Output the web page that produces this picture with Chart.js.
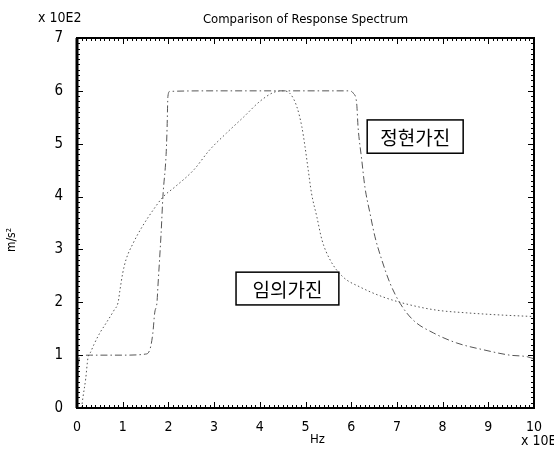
<!DOCTYPE html>
<html><head><meta charset="utf-8">
<script src="https://cdn.jsdelivr.net/npm/chart.js@4/dist/chart.umd.min.js"></script>
<style>html,body{margin:0;padding:0;background:#fff}#wrap{width:554px;height:454px}</style>
</head><body><div id="wrap"><canvas id="c" width="554" height="454"></canvas></div>
<script>
const xTicks = [0,1,2,3,4,5,6,7,8,9,10];
const yTicks = [0,1,2,3,4,5,6,7];
// 정현가진 (dash-dot)
const sineX = [0,0.02,0.05,0.1,0.3,1.0,1.5,1.6,1.66,1.7,1.75,1.77,1.84,1.88,1.95,1.97,1.99,2.03,3.0,4.0,5.0,5.95,6.05,6.12,6.15,6.23,6.3,6.41,6.52,6.67,6.85,7.07,7.36,7.8,8.31,8.9,9.47,9.85,10];
const sineY = [0,0.6,0.95,0.99,1.0,1.0,1.02,1.12,1.42,1.8,2.0,2.29,3.3,4.0,4.8,5.26,5.9,5.99,6.0,6.0,6.0,6.0,5.95,5.76,5.32,4.7,4.18,3.69,3.24,2.8,2.36,1.98,1.66,1.42,1.23,1.1,1.0,0.97,0.93];
// 임의가진 (dotted)
const randX = [0.1,0.13,0.19,0.24,0.3,0.37,0.5,0.61,0.81,0.9,0.94,1.0,1.07,1.23,1.42,1.67,1.89,2.14,2.55,2.9,3.27,3.64,4.0,4.3,4.5,4.66,4.81,4.92,4.99,5.06,5.13,5.25,5.36,5.54,5.82,6.19,6.7,7.29,7.88,8.53,9.26,10];
const randY = [0,0.2,0.55,0.95,1.06,1.2,1.42,1.57,1.85,2.0,2.23,2.55,2.8,3.12,3.42,3.75,4.0,4.18,4.5,4.88,5.2,5.5,5.8,5.97,6.0,5.95,5.7,5.32,4.94,4.5,4.07,3.61,3.18,2.8,2.48,2.29,2.1,1.95,1.85,1.8,1.76,1.73];

const FONT = '"Liberation Sans Narrow","DejaVu Sans Condensed","Liberation Sans",sans-serif';
const pts = (xs, ys) => xs.map((x,i)=>({x, y: ys[i]}));

const frame = {
  id: 'frame',
  afterDraw(chart) {
    const {ctx, chartArea: a, scales: {x, y}} = chart;
    ctx.save();
    ctx.strokeStyle = '#000';
    ctx.lineWidth = 1;
    ctx.beginPath();
    for (let i = 0; i <= 100; i++) {
      const v = i / 10; const px = Math.round(x.getPixelForValue(v)) + 0.5;
      const L = (i % 10 === 0) ? 6 : 3;
      ctx.moveTo(px, a.bottom); ctx.lineTo(px, a.bottom - L);
      ctx.moveTo(px, a.top); ctx.lineTo(px, a.top + L);
    }
    for (let i = 0; i <= 70; i++) {
      const v = i / 10; const py = Math.round(y.getPixelForValue(v)) + 0.5;
      const L = (i % 10 === 0) ? 6 : 3;
      ctx.moveTo(a.left, py); ctx.lineTo(a.left + L, py);
      ctx.moveTo(a.right, py); ctx.lineTo(a.right - L, py);
    }
    ctx.stroke();
    ctx.lineWidth = 2;
    ctx.strokeRect(a.left, a.top, a.right - a.left, a.bottom - a.top);
    ctx.beginPath(); ctx.lineWidth = 3;
    ctx.moveTo(a.left, a.top); ctx.lineTo(a.left, a.bottom); ctx.stroke();
    ctx.fillStyle = '#000';
    ctx.textBaseline = 'middle';
    ctx.font = '13px ' + FONT;
    ctx.textAlign = 'center';
    ctx.fillText('Comparison of Response Spectrum', (a.left + a.right) / 2, 20);
    ctx.textAlign = 'left';
    ctx.font = '14px ' + FONT;
    ctx.fillText('x 10E2', 38, 18);
    ctx.fillText('x 10E', 521, 441);
    ctx.textAlign = 'center';
    ctx.font = '13px ' + FONT;
    ctx.fillText('Hz', (a.left + a.right) / 2 + 12, 440);
    ctx.save();
    ctx.translate(12, 240); ctx.rotate(-Math.PI / 2);
    ctx.font = '12px ' + FONT;
    ctx.fillText('m/s\u00B2', 0, 0);
    ctx.restore();
    const boxes = chart.options.plugins.frame.boxes;
    ctx.font = '19px "Noto Sans CJK KR", sans-serif';
    ctx.lineWidth = 1.5;
    boxes.forEach(b => {
      const x0 = x.getPixelForValue(b.x0), x1 = x.getPixelForValue(b.x1);
      const y0 = y.getPixelForValue(b.y0), y1 = y.getPixelForValue(b.y1);
      ctx.fillStyle = '#fff';
      ctx.fillRect(x0, y0, x1 - x0, y1 - y0);
      ctx.strokeRect(x0, y0, x1 - x0, y1 - y0);
      ctx.fillStyle = '#000';
      ctx.textAlign = 'center';
      ctx.fillText(b.text, (x0 + x1) / 2, (y0 + y1) / 2 + 1);
    });
    ctx.restore();
  }
};

new Chart(document.getElementById('c'), {
  type: 'scatter',
  data: { datasets: [
    { label: '정현가진', data: pts(sineX, sineY), showLine: true, borderColor: '#555', borderWidth: 1,
      borderDash: [7,3,1.5,3], pointRadius: 0, cubicInterpolationMode: 'monotone', fill: false },
    { label: '임의가진', data: pts(randX, randY), showLine: true, borderColor: '#555', borderWidth: 1,
      borderDash: [1.5,2.5], pointRadius: 0, cubicInterpolationMode: 'monotone', fill: false }
  ]},
  options: {
    responsive: false, animation: false, devicePixelRatio: 1,
    layout: { padding: { left: 0, right: 20, top: 38, bottom: 0 } },
    plugins: {
      legend: { display: false }, tooltip: { enabled: false }, title: { display: false },
      frame: { boxes: [
        { text: '정현가진', x0: 6.35, x1: 8.45, y0: 5.45, y1: 4.82 },
        { text: '임의가진', x0: 3.48, x1: 5.73, y0: 2.57, y1: 1.95 }
      ]}
    },
    scales: {
      x: { type: 'linear', min: 0, max: 10,
        afterFit(s) { s.height = 46; },
        afterBuildTicks(s) { s.ticks = xTicks.map(v => ({ value: v })); },
        grid: { display: false }, border: { display: false },
        ticks: { padding: 3, color: '#000', font: { family: FONT, size: 14 }, maxRotation: 0, autoSkip: false } },
      y: { type: 'linear', min: 0, max: 7,
        afterFit(s) { s.width = 77; },
        afterBuildTicks(s) { s.ticks = yTicks.map(v => ({ value: v })); },
        grid: { display: false }, border: { display: false },
        ticks: { padding: 6, color: '#000', font: { family: FONT, size: 15 }, autoSkip: false } }
    }
  },
  plugins: [frame]
});
</script></body></html>
